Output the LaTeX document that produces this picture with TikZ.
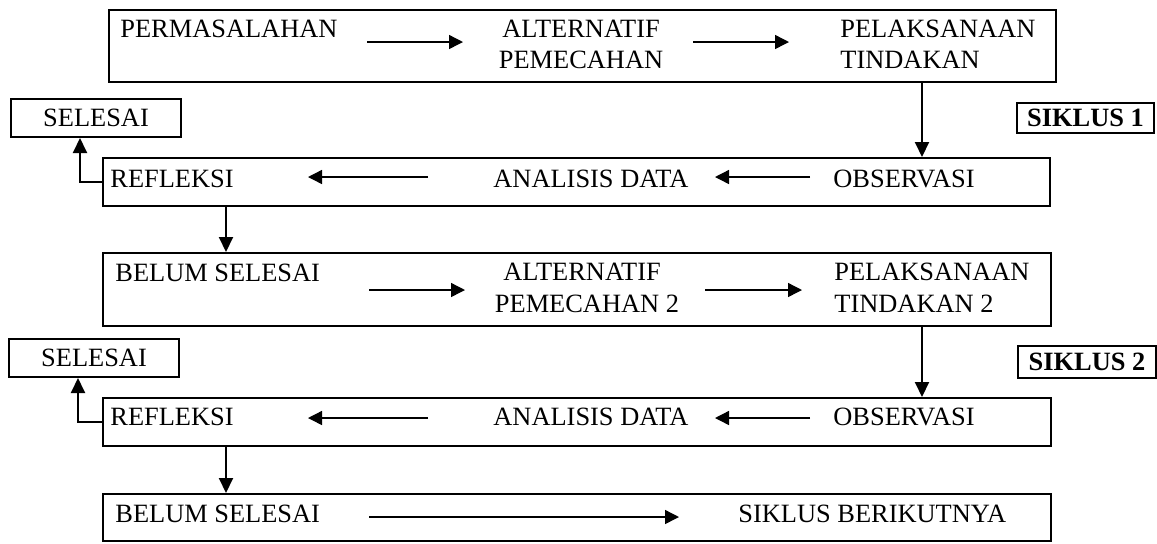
\documentclass[tikz,border=0pt]{standalone}
\usepackage{fontspec}
\setmainfont{Liberation Serif}
\usetikzlibrary{arrows.meta}
\begin{document}
\begin{tikzpicture}[x=0.5pt,y=-0.5pt,
  box/.style={draw=black,line width=1pt,rectangle,inner sep=0pt},
  txt/.style={anchor=base west,inner sep=0pt,font=\fontsize{13.2}{15}\selectfont},
  ctxt/.style={anchor=base,inner sep=0pt,font=\fontsize{13.2}{15}\selectfont},
  btxt/.style={inner sep=0pt,font=\fontsize{13.2}{15}\selectfont\bfseries},
  arr/.style={line width=0.7pt,-{Triangle[length=7pt,width=7pt]}},
  varr/.style={line width=1pt,-{Triangle[length=7.5pt,width=7pt]}}]
\fill[white] (0,0) rectangle (1157,543);
\useasboundingbox (0,0) rectangle (1157,543);
% main boxes
\node[box,minimum width=473.5pt,minimum height=36pt] (b1) at (582.5,46) {};
\node[box,minimum width=473.5pt,minimum height=24pt] (b2) at (576.5,182) {};
\node[box,minimum width=474pt,minimum height=36.5pt] (b3) at (577,289.5) {};
\node[box,minimum width=474pt,minimum height=24pt] (b4) at (577,422) {};
\node[box,minimum width=474pt,minimum height=23.5pt] (b5) at (577,517.5) {};
% side boxes
\node[box,minimum width=85pt,minimum height=19pt,font=\fontsize{13.2}{15}\selectfont] (s1) at (96,118) {SELESAI};
\node[box,minimum width=85pt,minimum height=19pt,font=\fontsize{13.2}{15}\selectfont] (s2) at (94,358) {SELESAI};
\node[box,minimum width=68.5pt,minimum height=15pt,font=\fontsize{13.2}{15}\selectfont\bfseries] (k1) at (1085.5,118) {SIKLUS 1};
\node[box,minimum width=69pt,minimum height=16pt,font=\fontsize{13.2}{15}\selectfont\bfseries] (k2) at (1087,362) {SIKLUS 2};
% row 1 texts
\node[txt] (t11) at (120,37) {PERMASALAHAN};
\node[ctxt] (t12a) at (581,37) {ALTERNATIF};
\node[ctxt] (t12b) at (581,68) {PEMECAHAN};
\node[txt] (t13a) at (840,37) {PELAKSANAAN};
\node[txt] (t13b) at (840,68) {TINDAKAN};
% row 2 texts
\node[txt] (t21) at (110,187) {REFLEKSI};
\node[txt] (t22) at (493,187) {ANALISIS DATA};
\node[txt] (t23) at (833,187) {OBSERVASI};
% row 3 texts
\node[txt] (t31) at (115,281) {BELUM SELESAI};
\node[ctxt] (t32a) at (582,280) {ALTERNATIF};
\node[ctxt] (t32b) at (587,312) {PEMECAHAN 2};
\node[txt] (t33a) at (834,280) {PELAKSANAAN};
\node[txt] (t33b) at (834,312) {TINDAKAN 2};
% row 4 texts
\node[txt] (t41) at (110,425) {REFLEKSI};
\node[txt] (t42) at (493,425) {ANALISIS DATA};
\node[txt] (t43) at (833,425) {OBSERVASI};
% row 5 texts
\node[txt] (t51) at (115,522) {BELUM SELESAI};
\node[txt] (t52) at (738,522) {SIKLUS BERIKUTNYA};
% row arrow coordinates
\coordinate (r1a) at (367,42); \coordinate (r1b) at (463,42);
\coordinate (r1c) at (693,42); \coordinate (r1d) at (789,42);
\coordinate (r2a) at (428,177); \coordinate (r2b) at (308,177);
\coordinate (r2c) at (810,177); \coordinate (r2d) at (715,177);
\coordinate (r3a) at (369,290); \coordinate (r3b) at (465,290);
\coordinate (r3c) at (705,290); \coordinate (r3d) at (802,290);
\coordinate (r4a) at (428,418); \coordinate (r4b) at (308,418);
\coordinate (r4c) at (810,418); \coordinate (r4d) at (715,418);
\coordinate (r5a) at (369,517); \coordinate (r5b) at (679,517);
\draw[arr] (r1a) -- (r1b);
\draw[arr] (r1c) -- (r1d);
\draw[arr] (r2a) -- (r2b);
\draw[arr] (r2c) -- (r2d);
\draw[arr] (r3a) -- (r3b);
\draw[arr] (r3c) -- (r3d);
\draw[arr] (r4a) -- (r4b);
\draw[arr] (r4c) -- (r4d);
\draw[arr] (r5a) -- (r5b);
% vertical connectors
\coordinate (vx) at (922,0);
\coordinate (lx) at (226,0);
\draw[varr] (b1.south -| vx) -- (b2.north -| vx);
\draw[varr] (b3.south -| vx) -- (b4.north -| vx);
\draw[varr] (b2.south -| lx) -- (b3.north -| lx);
\draw[varr] (b4.south -| lx) -- (b5.north -| lx);
% elbows to SELESAI
\coordinate (e1) at (80,182);
\coordinate (e2) at (78,422);
\draw[varr] (b2.west |- e1) -- (e1) -- (s1.south -| e1);
\draw[varr] (b4.west |- e2) -- (e2) -- (s2.south -| e2);
\end{tikzpicture}
\end{document}
